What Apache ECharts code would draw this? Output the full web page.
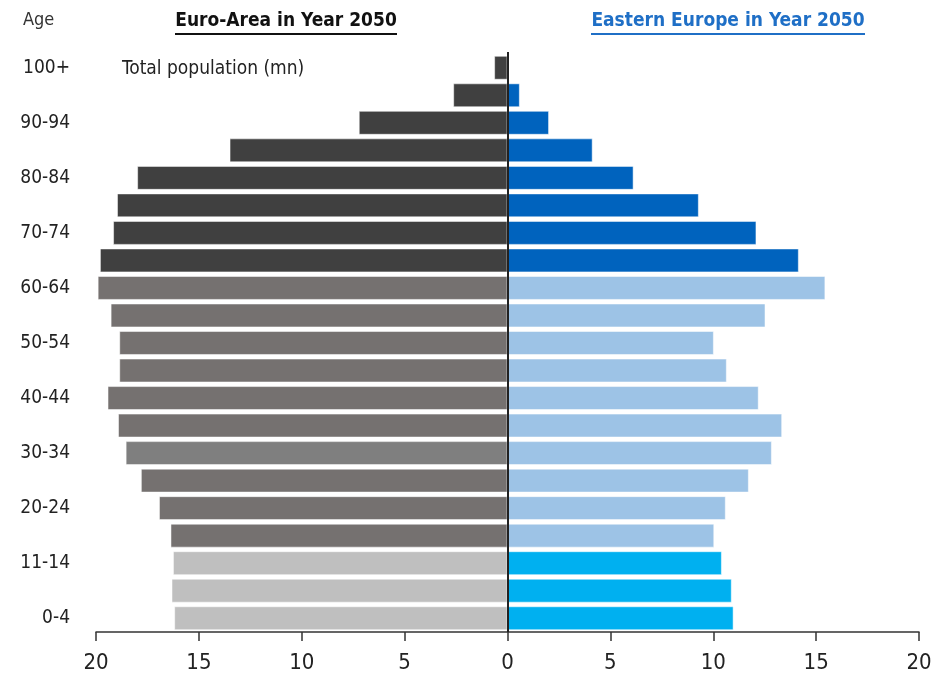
<!DOCTYPE html>
<html>
<head>
<meta charset="utf-8">
<script src="https://cdn.jsdelivr.net/npm/echarts@6/dist/echarts.min.js"></script>
<style>html,body{margin:0;padding:0;background:#fff;}#c{width:948px;height:682px;}</style>
</head>
<body>
<div id="c"></div>
<script>
// Age groups, bottom to top
var ageGroups = ['0-4','5-9','11-14','15-19','20-24','25-29','30-34','35-39','40-44','45-49','50-54','55-59','60-64','65-69','70-74','75-79','80-84','85-89','90-94','95-99','100+'];
// Euro-Area in 2050, total population (mn)
var euroArea = [16.2,16.33,16.26,16.38,16.94,17.82,18.56,18.93,19.44,18.87,18.87,19.29,19.92,19.81,19.17,18.98,18.0,13.51,7.23,2.64,0.65];
// Eastern Europe in 2050, total population (mn)
var easternEurope = [10.99,10.9,10.42,10.05,10.61,11.73,12.85,13.35,12.21,10.66,10.03,12.54,15.45,14.16,12.1,9.3,6.13,4.14,2.02,0.6,0.08];
// X axis ticks
var xTicks = [-20,-15,-10,-5,0,5,10,15,20];

var FONT = '"DejaVu Sans Condensed","Liberation Sans Narrow","Liberation Sans",sans-serif';

function euroColor(i){
  if (i <= 2) return '#bfbfbf';
  if (i === 6) return '#7f7f7f';
  if (i <= 12) return '#757170';
  return '#404040';
}
function eastColor(i){
  if (i <= 2) return '#00b0f0';
  if (i <= 12) return '#9dc3e6';
  return '#0063be';
}

var chart = echarts.init(document.getElementById('c'), null, {renderer:'canvas'});
chart.setOption({
  animation:false,
  backgroundColor:'#fff',
  grid:{left:96, right:29, top:54, bottom:50, containLabel:false},
  xAxis:{
    type:'value', min:xTicks[0], max:xTicks[xTicks.length-1], interval:5,
    axisLine:{show:true, onZero:false, lineStyle:{color:'#333', width:1.5}},
    axisTick:{show:true, length:9, lineStyle:{color:'#333', width:1.5}},
    splitLine:{show:false},
    axisLabel:{formatter:function(v){return Math.abs(v);}, fontFamily:FONT, fontSize:22, color:'#222', margin:20}
  },
  yAxis:{
    type:'category', data:ageGroups,
    axisLine:{show:false}, axisTick:{show:false},
    axisLabel:{interval:1, fontFamily:FONT, fontSize:19, color:'#222', margin:26}
  },
  series:[
    {
      name:'Euro-Area', type:'bar', stack:'a', barWidth:'87%',
      data:euroArea.map(function(v){return -v;}),
      itemStyle:{color:function(p){return euroColor(p.dataIndex);}, borderColor:'rgba(255,255,255,0.5)', borderWidth:1},
      markLine:{symbol:'none', silent:true, label:{show:false}, lineStyle:{color:'#222', width:2, type:'solid'},
        data:[[{coord:[0,'0-4'], y:632},{coord:[0,'100+'], y:52}]]}
    },
    {
      name:'Eastern Europe', type:'bar', stack:'a', barWidth:'87%',
      data:easternEurope,
      itemStyle:{color:function(p){return eastColor(p.dataIndex);}, borderColor:'rgba(255,255,255,0.5)', borderWidth:1}
    }
  ],
  graphic:[
    {type:'text', left:23, top:11, style:{text:'Age', fontFamily:FONT, fontSize:18, fill:'#333'}},
    {type:'text', x:286, y:21, style:{text:'Euro-Area in Year 2050', fontFamily:FONT, fontSize:19, fontWeight:'bold', fill:'#111', textAlign:'center', textVerticalAlign:'middle'}},
    {type:'line', shape:{x1:175, y1:34, x2:397, y2:34}, style:{stroke:'#111', lineWidth:2}},
    {type:'text', x:728, y:21, style:{text:'Eastern Europe in Year 2050', fontFamily:FONT, fontSize:19, fontWeight:'bold', fill:'#1f6fc6', textAlign:'center', textVerticalAlign:'middle'}},
    {type:'line', shape:{x1:591, y1:34, x2:865, y2:34}, style:{stroke:'#1f6fc6', lineWidth:2}},
    {type:'text', left:122, top:60, style:{text:'Total population (mn)', fontFamily:FONT, fontSize:19, fill:'#222'}}
  ]
});
</script>
</body>
</html>
